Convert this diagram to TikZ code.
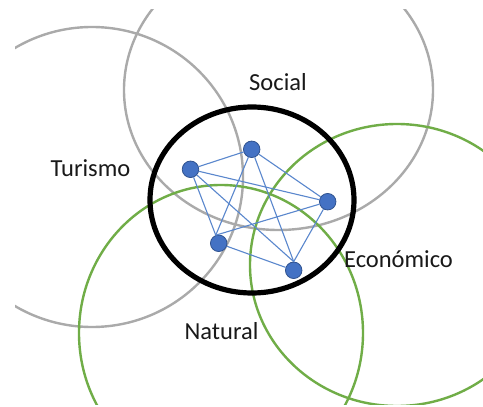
\documentclass[tikz,border=0pt]{standalone}
\usepackage{fontspec}
\setmainfont{Carlito}
\definecolor{ringgreen}{RGB}{112,173,71}
\definecolor{ringgray}{RGB}{170,170,170}
\definecolor{dotfill}{RGB}{68,114,196}
\definecolor{dotedge}{RGB}{47,82,143}
\definecolor{linkblue}{RGB}{90,135,205}
\tikzset{
  graycircle/.style={draw=ringgray,line width=2.4pt},
  greencircle/.style={draw=ringgreen,line width=2.4pt},
  blackcircle/.style={draw=black,line width=5.2pt},
  dot/.style={circle,fill=dotfill,draw=dotedge,line width=0.8pt,minimum size=16.5pt,inner sep=0pt},
  link/.style={draw=linkblue,line width=1.1pt},
  lab/.style={font=\fontsize{24.5}{29}\selectfont,text=black!90,inner sep=0pt}
}
\begin{document}
\begin{tikzpicture}[x=1pt,y=-1pt]
\useasboundingbox (0,0) rectangle (483,407);
\fill[white] (0,0) rectangle (483,407);
\begin{scope}
\clip (15,9) rectangle (483,404);
\draw[graycircle] (92,177) ellipse [x radius=151,y radius=150];
\draw[graycircle] (278.5,90) ellipse [x radius=154.5,y radius=140];
\draw[greencircle] (221,333) ellipse [x radius=142,y radius=148];
\draw[greencircle] (397,265) ellipse [x radius=147,y radius=141];
\end{scope}
\draw[blackcircle] (252,200) ellipse [x radius=102,y radius=93];
\node[dot] (a) at (190.5,169.3) {};
\node[dot] (b) at (251.7,149.3) {};
\node[dot] (c) at (327.7,201.7) {};
\node[dot] (d) at (218.7,243.3) {};
\node[dot] (e) at (293.7,270.3) {};
\draw[link] (a) -- (b);
\draw[link] (a) -- (c);
\draw[link] (a) -- (d.110);
\draw[link] (a) -- (e.north);
\draw[link] (b) -- (c);
\draw[link] (b) -- (d.110);
\draw[link] (b) -- (e.north);
\draw[link] (c) -- (d.110);
\draw[link] (c) -- (e.north);
\draw[link] (d) -- (e);
\node[lab] (t) at (90.5,168) {Turismo};
\node[lab] (s) at (278,82.5) {Social};
\node[lab] (n) at (221.5,331) {Natural};
\node[lab] (o) at (398.5,259) {Económico};
\end{tikzpicture}
\end{document}
